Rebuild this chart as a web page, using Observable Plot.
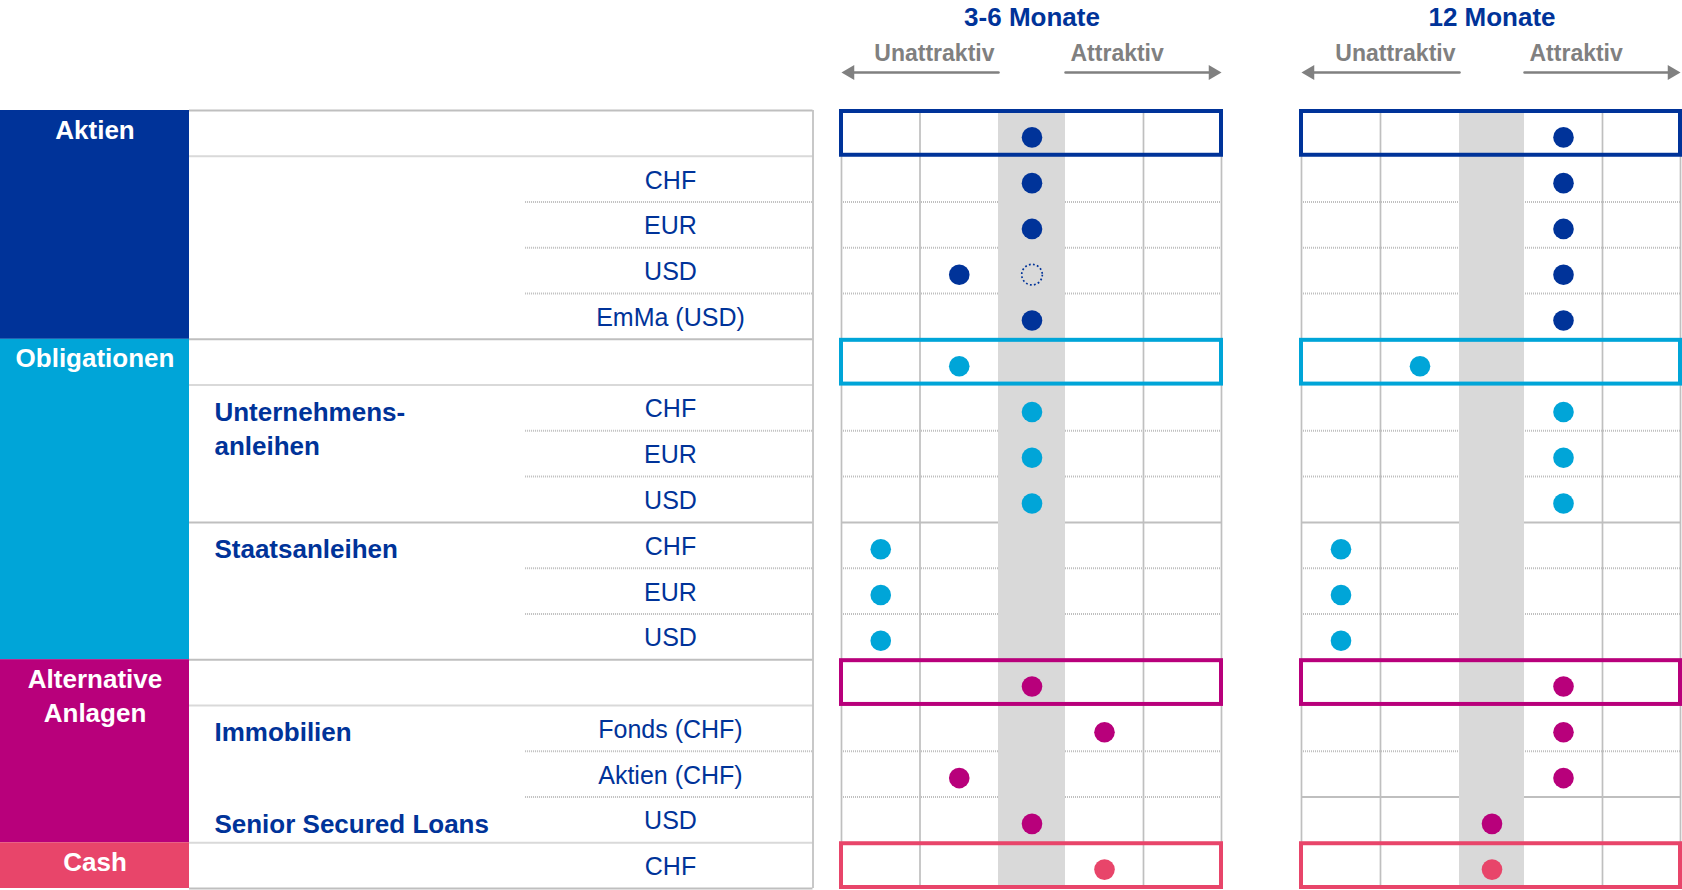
<!DOCTYPE html>
<html>
<head>
<meta charset="utf-8">
<script src="https://cdn.jsdelivr.net/npm/d3@7"></script>
<script src="https://cdn.jsdelivr.net/npm/@observablehq/plot@0.6"></script>
<style>
  html, body { margin: 0; padding: 0; background: #ffffff; }
  #chart svg { display: block; }
</style>
</head>
<body>
<div id="chart"></div>
<script>
// ---------------- DATA ----------------
const categories = ["Aktien", "Obligationen", "Alternative\nAnlagen", "Cash"];
const categoryRowCounts = [5, 7, 4, 1];
const rowLabels = ["", "CHF", "EUR", "USD", "EmMa (USD)",
                   "", "CHF", "EUR", "USD", "CHF", "EUR", "USD",
                   "", "Fonds (CHF)", "Aktien (CHF)", "USD",
                   "CHF"];
const groupLabels = ["Unternehmens-\nanleihen", "Staatsanleihen", "Immobilien", "Senior Secured Loans"];
const groupRows = [6, 9, 13, 15];
const horizons = ["3-6 Monate", "12 Monate"];
const directionLabels = ["Unattraktiv", "Attraktiv"];
// assessment 1 (unattraktiv) ... 5 (attraktiv), one per row
const scores36 = [3, 3, 3, 2, 3, 2, 3, 3, 3, 1, 1, 1, 3, 4, 2, 3, 4];
const scores12 = [4, 4, 4, 4, 4, 2, 4, 4, 4, 1, 1, 1, 4, 4, 4, 3, 3];
// previous assessment shown as a dotted circle
const previousRows = [3];
const previousHorizons = ["3-6 Monate"];
const previousScores = [3];

// ---------------- STYLE / LAYOUT ----------------
const categoryColors = ["#003399", "#00A5D8", "#B8007B", "#E8456A"];
const textBlue = "#003399";
const lineGray = "#BFBFBF";
const lightGray = "#D9D9D9";
const arrowGray = "#808080";
const font = "'Liberation Sans', Arial, Helvetica, sans-serif";

// piecewise x: left table area, then two panels of five columns (middle column narrower)
const xDomain = [-3, -2, -1, 0, 2, 3, 5, 6, 8, 9, 11];
const xRange  = [0, 189, 812.5, 841, 998, 1065, 1221, 1301, 1459, 1524, 1680];
const panelOffset = [0, 6];
const catX = -2.5, tableL = -2, tableR = -1;
const groupTextX = -1.96, currencyTextX = -1.2286, dottedStartX = -1.461;
const rowPx = (888 - 110) / 17;
const px = p => p / rowPx;

const tableSolid = [0, 5, 9, 12, 17];
const tableLight = [1, 6, 13, 16];
const tableDotted = [2, 3, 4, 7, 8, 10, 11, 14, 15];
const panelDotted = [[2, 3, 4, 7, 8, 10, 11, 14, 15], [2, 3, 4, 7, 8, 10, 11, 14]];
const panelSolid = [[9], [9, 15]];

// ---------------- DERIVED TABLES ----------------
const categoryStart = categoryRowCounts.map((n, i) => d3.sum(categoryRowCounts.slice(0, i)));
const rowCategory = categories.flatMap((c, i) => Array(categoryRowCounts[i]).fill(c));
const cats = categories.map((c, i) => ({cat: c, start: categoryStart[i], end: categoryStart[i] + categoryRowCounts[i]}));
const rows = rowLabels.map((label, i) => ({row: i, label, cat: rowCategory[i]})).filter(d => d.label);
const groups = groupLabels.map((label, i) => ({label, row: groupRows[i]}));
const allScores = [scores36, scores12];
const dots = horizons.flatMap((h, hi) => allScores[hi].map((s, i) => ({row: i, hi, score: s, cat: rowCategory[i]})));
const prev = previousRows.map((r, i) => ({row: r, hi: horizons.indexOf(previousHorizons[i]), score: previousScores[i], cat: rowCategory[r]}));
const boxes = horizons.flatMap((h, hi) => cats.map(c => ({hi, cat: c.cat, start: c.start})));
const panels = horizons.map((h, hi) => ({h, hi}));
const verticals = panels.flatMap(p => [0, 1, 4, 5].map(v => v + panelOffset[p.hi]));
const pDotted = panels.flatMap(p => panelDotted[p.hi].map(b => ({b, hi: p.hi})));
const pSolid = panels.flatMap(p => panelSolid[p.hi].map(b => ({b, hi: p.hi})));
const nLines = s => s.split("\n").length;

const titleY = px(25 - 110), dirY = px(60 - 110), arrowY = px(72 - 110);

const chart = Plot.plot({
  width: 1682,
  height: 890,
  margin: 0,
  x: {type: "linear", domain: xDomain, range: xRange, axis: null},
  y: {type: "linear", domain: [0, 17], range: [110, 888], axis: null},
  color: {domain: categories, range: categoryColors},
  style: {fontFamily: font, background: "#ffffff"},
  marks: [
    // category colour blocks
    Plot.rect(cats, {x1: -3, x2: tableL, y1: "start", y2: "end", fill: "cat"}),
    // table rules
    Plot.ruleY(tableDotted, {y: d => d, x1: dottedStartX, x2: tableR, stroke: lineGray, strokeWidth: 2, strokeDasharray: "1 1"}),
    Plot.ruleY(tableLight, {y: d => d, x1: tableL, x2: tableR, stroke: lightGray, strokeWidth: 2}),
    Plot.ruleY(tableSolid, {y: d => d, x1: tableL, x2: tableR, stroke: lineGray, strokeWidth: 2}),
    Plot.ruleX([tableR], {x: d => d, y1: 0, y2: 17, stroke: lineGray, strokeWidth: 1.7}),
    // panel grid
    Plot.ruleY(pDotted, {y: "b", x1: d => panelOffset[d.hi], x2: d => panelOffset[d.hi] + 5, stroke: lineGray, strokeWidth: 2, strokeDasharray: "1 1"}),
    Plot.ruleY(pSolid, {y: "b", x1: d => panelOffset[d.hi], x2: d => panelOffset[d.hi] + 5, stroke: lineGray, strokeWidth: 2}),
    Plot.ruleX(verticals, {x: d => d, y1: 0, y2: 17, stroke: lineGray, strokeWidth: 1.7}),
    // neutral band
    Plot.rect(panels, {x1: d => panelOffset[d.hi] + 2, x2: d => panelOffset[d.hi] + 3, y1: 0, y2: 17, fill: lightGray}),
    // category header boxes
    Plot.rect(boxes, {x1: d => panelOffset[d.hi], x2: d => panelOffset[d.hi] + 5, y1: "start", y2: d => d.start + 1,
      insetTop: 1, insetBottom: 1, fill: "none", stroke: "cat", strokeWidth: 4}),
    // assessments
    Plot.dot(dots, {x: d => panelOffset[d.hi] + d.score - 0.5, y: d => d.row + 0.5, dy: 4, r: 10.3, fill: "cat"}),
    Plot.dot(prev, {x: d => panelOffset[d.hi] + d.score - 0.5, y: d => d.row + 0.5, dy: 4, r: 10.3, fill: "none",
      stroke: "cat", strokeWidth: 1.7, strokeDasharray: "1.8 2.3"}),
    // labels
    Plot.text(cats, {x: catX, y: d => d.start + px(28 + (nLines(d.cat) - 1) * 34.4), text: "cat", fill: "#ffffff",
      fontSize: 26, fontWeight: "bold", lineAnchor: "bottom", lineHeight: 1.32}),
    Plot.text(rows, {x: currencyTextX, y: d => d.row + px(32.4), text: "label", fill: textBlue, fontSize: 25, lineAnchor: "bottom"}),
    Plot.text(groups, {x: groupTextX, y: d => d.row + px(36 + (nLines(d.label) - 1) * 34), text: "label", fill: textBlue,
      fontSize: 26, fontWeight: "bold", textAnchor: "start", lineAnchor: "bottom", lineHeight: 1.3}),
    // header
    Plot.text(panels, {x: d => panelOffset[d.hi] + 2.5, y: titleY, text: "h", fill: textBlue, fontSize: 26, fontWeight: "bold", lineAnchor: "bottom"}),
    Plot.text(panels, {x: d => panelOffset[d.hi] + 2, y: dirY, text: () => directionLabels[0], fill: arrowGray, fontSize: 23,
      fontWeight: "bold", textAnchor: "end", dx: -4, lineAnchor: "bottom"}),
    Plot.text(panels, {x: d => panelOffset[d.hi] + 3, y: dirY, text: () => directionLabels[1], fill: arrowGray, fontSize: 23,
      fontWeight: "bold", textAnchor: "start", dx: 5, lineAnchor: "bottom"}),
    Plot.arrow(panels, {x1: d => panelOffset[d.hi] + 2, x2: d => panelOffset[d.hi], y1: arrowY, y2: arrowY,
      headLength: 0, insetEnd: 8, stroke: arrowGray, strokeWidth: 2.5}),
    Plot.arrow(panels, {x1: d => panelOffset[d.hi] + 3, x2: d => panelOffset[d.hi] + 5, y1: arrowY, y2: arrowY,
      headLength: 0, insetEnd: 8, stroke: arrowGray, strokeWidth: 2.5}),
    Plot.dot(panels, {x: d => panelOffset[d.hi], y: arrowY, symbol: "triangle", rotate: -90, dx: 8.5, r: 5.5, fill: arrowGray}),
    Plot.dot(panels, {x: d => panelOffset[d.hi] + 5, y: arrowY, symbol: "triangle", rotate: 90, dx: -8.5, r: 5.5, fill: arrowGray})
  ]
});
document.getElementById("chart").appendChild(chart);
</script>
</body>
</html>
